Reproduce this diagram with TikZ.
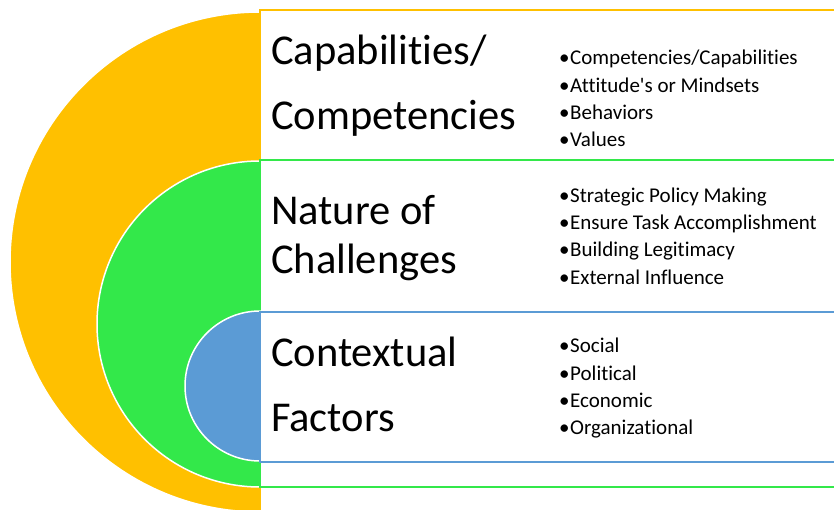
\documentclass[tikz,border=0pt]{standalone}
\usepackage{fontspec}
\setmainfont{Carlito}[Ligatures=TeXOff, RawFeature={-liga;-clig;-dlig;-calt;-hlig}]
\definecolor{capyellow}{HTML}{FFC000}
\definecolor{chalgreen}{HTML}{33E84A}
\definecolor{ctxblue}{HTML}{5B9BD5}
% one bullet line: bullet in a fixed-width box, then the text
\newcommand\listentry[1]{\makebox[11pt][l]{\textbullet}#1}
\begin{document}
\begin{tikzpicture}[x=1pt,y=-1pt,
  disc/.style={fill=#1, draw=white, line width=1.5pt},
  panel/.style={fill=white, draw=#1, line width=2pt},
  heading/.style={anchor=base west, inner sep=0pt, font=\fontsize{42.5}{50}\selectfont},
  item/.style={anchor=base west, inner sep=0pt, font=\fontsize{21}{25}\selectfont}]
\useasboundingbox (0,0) rectangle (834,510);
\clip (0,0) rectangle (834,510);
\fill[white] (0,0) rectangle (834,510);

% outer layer: capabilities
\path[disc=capyellow] (260,262) circle[radius=250pt];
\path[panel=capyellow] (260,10) rectangle (850,520);
% middle layer: challenges
\path[disc=chalgreen] (260,324) circle[radius=163pt];
\path[panel=chalgreen] (260,160) rectangle (850,486.5);
% inner layer: context
\path[disc=ctxblue] (260,386) circle[radius=75pt];
\path[panel=ctxblue] (260,311.5) rectangle (850,461.7);

% headings
\node[heading] (capA) at (271,65) {Capabilities/};
\node[heading] (capB) at (271,130) {Competencies};
\node[heading] (chalA) at (271,225) {Nature of};
\node[heading] (chalB) at (271,273) {Challenges};
\node[heading] (ctxA) at (271,366) {Contextual};
\node[heading] (ctxB) at (271,431) {Factors};

% bullet lists
\node[item] (capI1) at (559,65) {\listentry{Competencies/Capabilities}};
\node[item] (capI2) at (559,92.3) {\listentry{Attitude's or Mindsets}};
\node[item] (capI3) at (559,119.6) {\listentry{Behaviors}};
\node[item] (capI4) at (559,147) {\listentry{Values}};

\node[item] (chalI1) at (559,203) {\listentry{Strategic Policy Making}};
\node[item] (chalI2) at (559,230) {\listentry{Ensure Task Accomplishment}};
\node[item] (chalI3) at (559,257) {\listentry{Building Legitimacy}};
\node[item] (chalI4) at (559,284) {\listentry{External Influence}};

\node[item] (ctxI1) at (559,352) {\listentry{Social}};
\node[item] (ctxI2) at (559,380) {\listentry{Political}};
\node[item] (ctxI3) at (559,407) {\listentry{Economic}};
\node[item] (ctxI4) at (559,434) {\listentry{Organizational}};
\end{tikzpicture}
\end{document}
